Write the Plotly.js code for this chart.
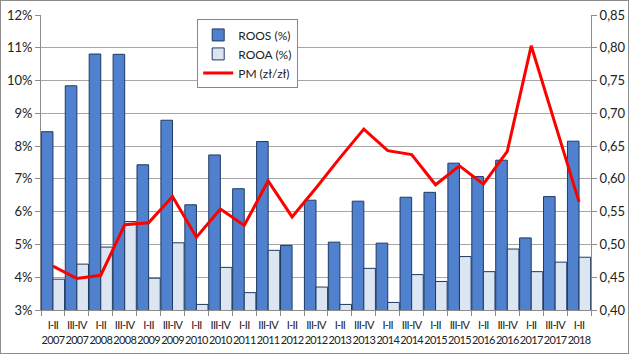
<!DOCTYPE html>
<html>
<head>
<meta charset="utf-8">
<script src="https://cdn.plot.ly/plotly-3.0.1.min.js"></script>
<style>
html,body{margin:0;padding:0;background:#fff;}
#chart{width:629px;height:354px;box-sizing:border-box;border:1px solid #8c8c8c;}
#chart .xtick text{letter-spacing:-0.7px;}
</style>
</head>
<body>
<div id="chart"></div>
<script>
const halves = ["I-II","III-IV","I-II","III-IV","I-II","III-IV","I-II","III-IV","I-II","III-IV","I-II","III-IV","I-II","III-IV","I-II","III-IV","I-II","III-IV","I-II","III-IV","I-II","III-IV","I-II"];
const years = ["2007","2007","2008","2008","2009","2009","2010","2010","2011","2011","2012","2012","2013","2013","2014","2014","2015","2015","2016","2016","2017","2017","2018"];
const roos = [8.44,9.84,10.81,10.80,7.43,8.79,6.21,7.73,6.70,8.14,4.97,6.35,5.07,6.32,5.04,6.44,6.59,7.48,7.07,7.57,5.20,6.46,8.15];
const rooa = [3.94,4.40,4.92,5.70,3.97,5.05,3.17,4.30,3.53,4.82,null,3.70,3.17,4.27,3.23,4.08,3.87,4.63,4.17,4.86,4.17,4.46,4.61];
const pm = [0.467,0.448,0.453,0.530,0.533,0.573,0.511,0.554,0.529,0.597,0.542,0.586,0.632,0.676,0.643,0.637,0.591,0.620,0.592,0.642,0.803,0.683,0.565];
const leftTicks = [3,4,5,6,7,8,9,10,11,12];
const rightTicks = [0.40,0.45,0.50,0.55,0.60,0.65,0.70,0.75,0.80,0.85];

const cats = halves.map((h,i)=>h+"<br>"+years[i]);
const FONT = "Lato, 'Open Sans', sans-serif";

const traces = [
  {type:'bar', name:'ROOS (%)', x:cats, y:roos, marker:{color:'#4F81CF', line:{color:'#1F3A60', width:1}}, yaxis:'y'},
  {type:'bar', name:'ROOA (%)', x:cats, y:rooa, marker:{color:'#DCE6F2', line:{color:'#1F3A60', width:1}}, yaxis:'y'},
  {type:'scatter', mode:'lines', name:'PM (zł/zł)', x:cats, y:pm, line:{color:'#FF0000', width:3}, yaxis:'y2'}
];

const layout = {
  width:627, height:352,
  margin:{l:40, r:37, t:14, b:43},
  paper_bgcolor:'#fff', plot_bgcolor:'#fff',
  separators:', ',
  barmode:'group', bargap:0.03, bargroupgap:0,
  font:{family:FONT, color:'#222', size:13},
  showlegend:true,
  legend:{x:0.284, y:0.985, xanchor:'left', yanchor:'top', bordercolor:'#888', borderwidth:1, bgcolor:'#fff',
          font:{family:FONT, size:12, color:'#222'}, tracegroupgap:0, itemwidth:30},
  xaxis:{type:'category', tickson:'boundaries', ticks:'outside', ticklen:5, tickcolor:'#8c8c8c',
         showline:true, linecolor:'#8c8c8c', linewidth:1, showgrid:false, ticklabelstandoff:5,
         tickfont:{family:FONT, size:11, color:'#222'}, tickangle:0, automargin:false},
  yaxis:{range:[3,12], tickvals:leftTicks, ticktext:leftTicks.map(v=>v+'%'), ticks:'outside', ticklen:5, tickcolor:'#8c8c8c',
         showline:true, linecolor:'#8c8c8c', gridcolor:'#a6a6a6', gridwidth:1, zeroline:false,
         tickfont:{family:FONT, size:13, color:'#222'}, automargin:false},
  yaxis2:{range:[0.40,0.85], overlaying:'y', side:'right', tickvals:rightTicks, tickformat:'.2f',
          ticks:'outside', ticklen:5, tickcolor:'#8c8c8c', showline:true, linecolor:'#8c8c8c',
          showgrid:false, zeroline:false, tickfont:{family:FONT, size:13, color:'#222'}, automargin:false}
};

Plotly.newPlot('chart', traces, layout, {displayModeBar:false, staticPlot:true});
</script>
</body>
</html>
